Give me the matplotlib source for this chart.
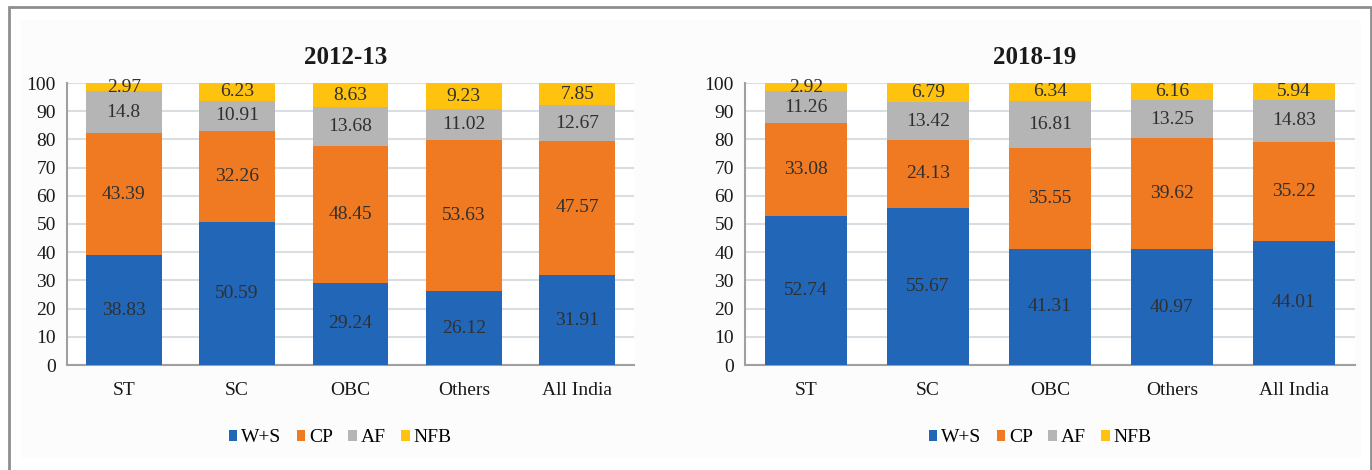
import matplotlib.pyplot as plt
from matplotlib.patches import Rectangle, Patch

plt.rcParams['font.family'] = ['Liberation Serif', 'DejaVu Serif']

groups = ['ST', 'SC', 'OBC', 'Others', 'All India']
series = ['W+S', 'CP', 'AF', 'NFB']
colors = ['#2266B8', '#F07A22', '#B5B5B5', '#FFC20E']

# shares (%) by social group
ws_2012 = [38.83, 50.59, 29.24, 26.12, 31.91]
cp_2012 = [43.39, 32.26, 48.45, 53.63, 47.57]
af_2012 = [14.8, 10.91, 13.68, 11.02, 12.67]
nfb_2012 = [2.97, 6.23, 8.63, 9.23, 7.85]

ws_2018 = [52.74, 55.67, 41.31, 40.97, 44.01]
cp_2018 = [33.08, 24.13, 35.55, 39.62, 35.22]
af_2018 = [11.26, 13.42, 16.81, 13.25, 14.83]
nfb_2018 = [2.92, 6.79, 6.34, 6.16, 5.94]

labels_2012 = [['38.83', '50.59', '29.24', '26.12', '31.91'],
               ['43.39', '32.26', '48.45', '53.63', '47.57'],
               ['14.8', '10.91', '13.68', '11.02', '12.67'],
               ['2.97', '6.23', '8.63', '9.23', '7.85']]
labels_2018 = [['52.74', '55.67', '41.31', '40.97', '44.01'],
               ['33.08', '24.13', '35.55', '39.62', '35.22'],
               ['11.26', '13.42', '16.81', '13.25', '14.83'],
               ['2.92', '6.79', '6.34', '6.16', '5.94']]

fig = plt.figure(figsize=(13.72, 4.70), dpi=100)
fig.patch.set_facecolor('white')

# outer frame and light chart areas (kept behind the axes)
fig.patches.append(Rectangle((9 / 1372, -0.1), 1362 / 1372, 1.0 - 7 / 470 + 0.1,
                             transform=fig.transFigure, facecolor='white',
                             edgecolor='#8E8E8E', linewidth=2, zorder=-2))
fig.patches.append(Rectangle((21 / 1372, 12 / 470), 1340 / 1372, 438 / 470,
                             transform=fig.transFigure, facecolor='#FCFCFC',
                             edgecolor='none', zorder=-1))

ax1 = fig.add_axes([67 / 1372, 105 / 470, 567 / 1372, 282 / 470])
ax2 = fig.add_axes([745 / 1372, 105 / 470, 610 / 1372, 282 / 470])


def draw_panel(ax, data, labels, title, title_x, legend_x):
    x = range(len(groups))
    bottom = [0] * len(groups)
    for k, vals in enumerate(data):
        ax.bar(x, vals, width=0.67, bottom=bottom, color=colors[k],
               label=series[k], zorder=3)
        for i, v in enumerate(vals):
            ax.text(i, bottom[i] + v / 2, labels[k][i], ha='center', va='center',
                    fontsize=14, color='#303030', zorder=4)
        bottom = [b + v for b, v in zip(bottom, vals)]

    ax.set_xlim(-0.5, len(groups) - 0.5)
    ax.set_ylim(0, 100)
    ax.set_yticks(range(0, 101, 10))
    ax.set_xticks(list(x))
    ax.set_xticklabels(groups)
    ax.tick_params(axis='both', length=0, labelsize=14, colors='#1A1A1A')
    ax.tick_params(axis='x', pad=12)
    ax.tick_params(axis='y', pad=8)
    ax.grid(axis='y', color='#D8DEE2', linewidth=1.5, zorder=0)
    ax.set_axisbelow(True)
    ax.set_facecolor('white')
    for side in ['top', 'right']:
        ax.spines[side].set_visible(False)
    for side in ['left', 'bottom']:
        ax.spines[side].set_color('#A0A0A0')
        ax.spines[side].set_linewidth(1.5)

    fig.text(title_x, 412 / 470, title, ha='center', va='center',
             fontsize=18, fontweight='bold', color='#1A1A1A')

    handles = [Patch(facecolor=c, edgecolor='none') for c in colors]
    fig.legend(handles, series, loc='center', ncol=4, frameon=False,
               bbox_to_anchor=(legend_x, 32 / 470), fontsize=14,
               handlelength=0.45, handleheight=0.45, handletextpad=0.18,
               columnspacing=0.8)


draw_panel(ax1, [ws_2012, cp_2012, af_2012, nfb_2012], labels_2012,
           '2012-13', 346 / 1372, 340 / 1372)
draw_panel(ax2, [ws_2018, cp_2018, af_2018, nfb_2018], labels_2018,
           '2018-19', 1035 / 1372, 1040 / 1372)

fig.savefig('out.png', dpi=100)
